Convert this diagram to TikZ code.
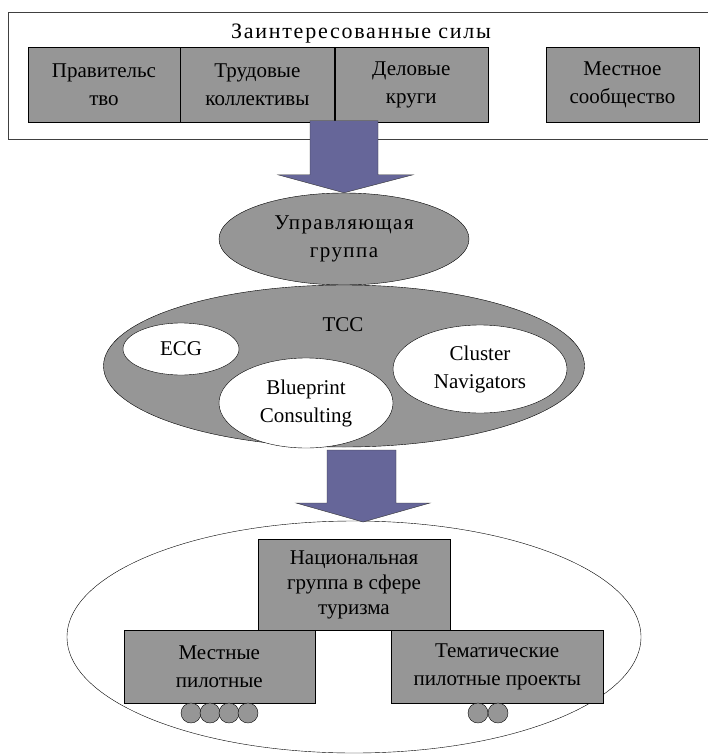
\documentclass[tikz,border=0pt]{standalone}
\usepackage{fontspec}
\setmainfont{Liberation Serif}
\usetikzlibrary{positioning,shapes.geometric,calc}
\definecolor{boxgray}{RGB}{150,150,150}
\definecolor{arrowblue}{RGB}{102,102,153}

\begin{document}
\begin{tikzpicture}[x=1pt, y=-1pt,
    font=\fontsize{21}{28}\selectfont,
    gbox/.style={draw, fill=boxgray, inner sep=0pt, align=center},
    gell/.style={ellipse, draw, fill=boxgray, inner sep=0pt, align=center},
    well/.style={ellipse, draw, fill=white, inner sep=0pt, align=center},
    pilot/.style={circle, draw, fill=boxgray, minimum size=20pt, inner sep=0pt},
    bigarrow/.style={draw=black!80, fill=arrowblue, line join=miter}]
        \useasboundingbox (0,0) rectangle (708,754);
        %frame
        \draw[line width=1pt, black!75] (8,13) rectangle (712,140);
        \node[font=\fontsize{22}{28}\selectfont\addfontfeatures{LetterSpace=8}] (forces) at (361,34) {Заинтересованные силы};
        %boxes
        \node[gbox, minimum width=152pt, minimum height=75pt] (gov) at (104,84.5) {Правительс\\тво};
        \node[gbox, minimum width=154pt, minimum height=75pt, right=0pt of gov] (labour) {Трудовые\\коллективы};
        \node[gbox, minimum width=153pt, minimum height=75pt, right=0pt of labour] (biz) {Деловые\\круги};
        \node[gbox, minimum width=153pt, minimum height=75pt] (local) at (622.5,84.5) {Местное\\сообщество};
        \draw[line width=1.5pt] (labour.north east) -- (labour.south east);
        %ellipses
        \node[gell, minimum width=250pt, minimum height=92pt,
              font=\fontsize{21}{28}\selectfont\addfontfeatures{LetterSpace=7}] (steer) at (344,239) {Управляющая\\группа};
        \node[gell, minimum width=481pt, minimum height=162pt] (tcc) at (344,366) {};
        \node (tcclabel) at (343,325) {TCC};
        \node[well, minimum width=116pt, minimum height=52pt] (ecg) at (181,349) {ECG};
        \node[well, minimum width=174pt, minimum height=90pt] (blue) at (306,403) {Blueprint\\Consulting};
        \node[well, minimum width=174pt, minimum height=88pt] (nav) at (480,369) {Cluster\\Navigators};
        %bottom group
        \node[ellipse, draw, minimum width=574pt, minimum height=232pt] (national) at (354,637) {};
        \node[gbox, minimum width=192pt, minimum height=91pt,
              font=\fontsize{21}{25}\selectfont] (ntg) at (354,584.5) {Национальная\\группа в сфере\\туризма};
        \node[gbox, minimum width=191pt, minimum height=73pt, anchor=north east] (localp) at (315,630) {Местные\\пилотные};
        \node[gbox, minimum width=212pt, minimum height=73pt, anchor=north west] (themep) at (391,630) {Тематические\\пилотные проекты};
        \foreach \cx in {191,210,229,248}
            \node[pilot] at (\cx,713) {};
        \foreach \cx in {478,498}
            \node[pilot] at (\cx,713) {};
        %arrows
        \coordinate (tip1) at (steer.north);
        \coordinate (tip2) at (363,522);
        \draw[bigarrow] (tip1) -- ++(-66,-18) -- ++(32,0) -- ++(0,-54) -- ++(68,0)
            -- ++(0,54) -- ++(35,0) -- cycle;
        \draw[bigarrow] (tip2) -- ++(-67,-19) -- ++(31,0) -- ++(0,-53) -- ++(69,0)
            -- ++(0,53) -- ++(34,0) -- cycle;
\end{tikzpicture}
\end{document}
